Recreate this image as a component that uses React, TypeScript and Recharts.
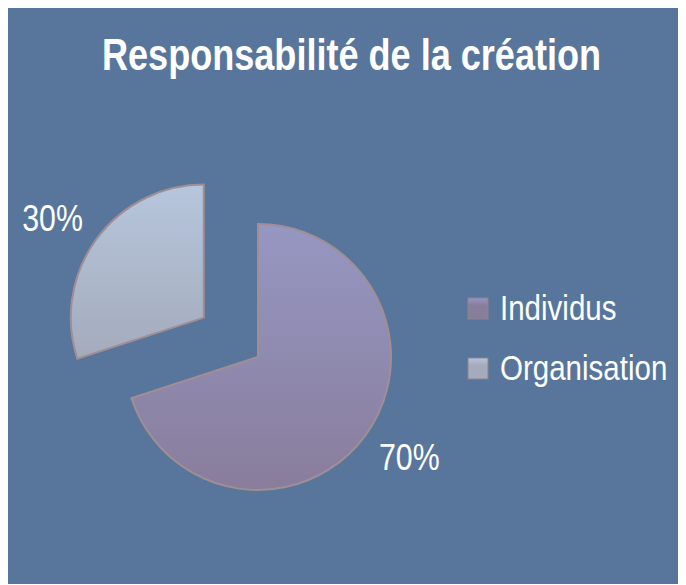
import { PieChart, Pie, Cell, Legend } from 'recharts';

const categories = ['Individus', 'Organisation'];
const shares = [70, 30];
const labels = ['70%', '30%'];
const topColors = ['#9697C2', '#B6C6DC'];
const bottomColors = ['#897D9C', '#A4ABBC'];

const data = categories.map((name, i) => ({ name, value: shares[i], label: labels[i] }));

const FONT = '"Liberation Sans", Arial, sans-serif';
const NARROW = 0.82; // fake Arial Narrow
const RAD = Math.PI / 180;
const BG = '#58769B';
const EDGE = '#A08E94';

// exploded slice is pushed out along its mid angle
const EXPLODE = 67;

const renderLabel = (props: any) => {
    const { cx, cy, midAngle, outerRadius, payload, index } = props;
    // labels sit a bit wider than tall around the pie
    const x = cx + (outerRadius + 54) * Math.cos(-midAngle * RAD);
    const y = cy + (outerRadius + 37) * Math.sin(-midAngle * RAD);
    return (
        <text key={index} transform={`translate(${x},${y + 13}) scale(${NARROW},1)`} fill="#fff"
            textAnchor="middle" style={{ fontFamily: FONT, fontSize: 37 }}>
            {payload.label}
        </text>
    );
};

const LegendBox = () => (
    <svg width={220} height={110}>
        <defs>
            {categories.map((c, i) => (
                <linearGradient key={c} id={`lg${i}`} x1="0" y1="0" x2="0" y2="1">
                    <stop offset="0%" stopColor={topColors[i]} />
                    <stop offset="35%" stopColor={bottomColors[i]} />
                    <stop offset="100%" stopColor={bottomColors[i]} />
                </linearGradient>
            ))}
        </defs>
        {categories.map((c, i) => (
            <g key={c}>
                <rect x={2} y={10 + i * 60} width={20} height={21} fill={`url(#lg${i})`} stroke="#8f8290" />
                <text transform={`translate(34,${32 + i * 60}) scale(${NARROW},1)`} fill="#fff"
                    style={{ fontFamily: FONT, fontSize: 36 }}>
                    {c}
                </text>
            </g>
        ))}
    </svg>
);

export default function App() {
    const cx = 245;
    const cy = 344;
    // mid angle of the Organisation slice (clockwise from top)
    const mid = (90 - (shares[0] + shares[1] / 2) / 100 * 360) * RAD;
    const ex = cx + EXPLODE * Math.cos(mid);
    const ey = cy - EXPLODE * Math.sin(mid);

    return (
        <PieChart width={677} height={576} style={{ background: BG }}>
            <defs>
                {categories.map((c, i) => (
                    <linearGradient key={c} id={`g${i}`} x1="0" y1="0" x2="0" y2="1">
                        <stop offset="0%" stopColor={topColors[i]} />
                        <stop offset="100%" stopColor={bottomColors[i]} />
                    </linearGradient>
                ))}
            </defs>
            <text transform={`translate(94,62) scale(${NARROW},1)`} fill="#fff"
                style={{ fontFamily: FONT, fontSize: 44, fontWeight: 'bold' }}>
                Responsabilité de la création
            </text>
            <Pie data={data} dataKey="value" cx={cx} cy={cy} outerRadius={133}
                startAngle={90} endAngle={-270} strokeWidth={2}
                label={(p: any) => (p.index === 0 ? renderLabel(p) : null)} labelLine={false}
                isAnimationActive={false} legendType="none">
                {data.map((d, i) => (
                    <Cell key={d.name} fill={i === 0 ? 'url(#g0)' : 'none'} stroke={i === 0 ? EDGE : 'none'} />
                ))}
            </Pie>
            <Pie data={data} dataKey="value" cx={ex} cy={ey} outerRadius={133}
                startAngle={90} endAngle={-270} strokeWidth={2}
                label={(p: any) => (p.index === 1 ? renderLabel(p) : null)} labelLine={false}
                isAnimationActive={false} legendType="none">
                {data.map((d, i) => (
                    <Cell key={d.name} fill={i === 1 ? 'url(#g1)' : 'none'} stroke={i === 1 ? EDGE : 'none'} />
                ))}
            </Pie>
            <Legend content={<LegendBox />} wrapperStyle={{ left: 458, top: 280, width: 220 }} />
        </PieChart>
    );
}
